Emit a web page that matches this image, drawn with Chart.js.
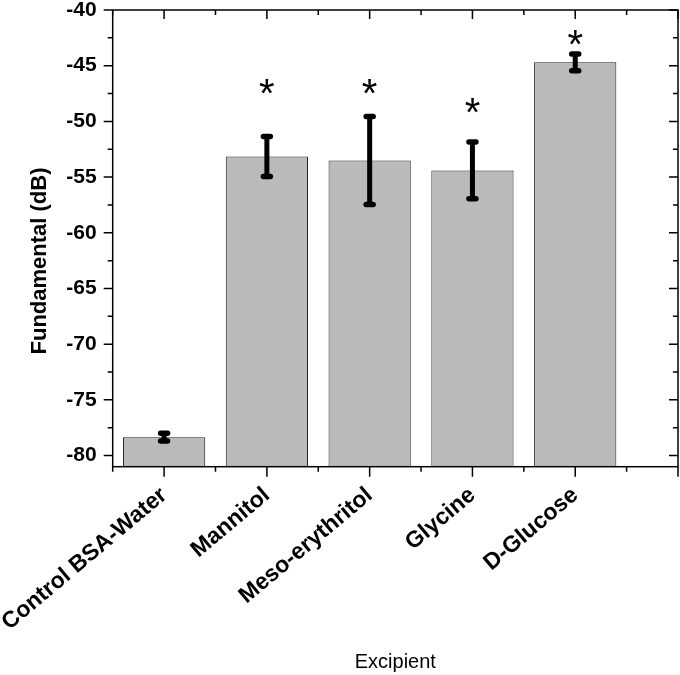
<!DOCTYPE html>
<html>
<head>
<meta charset="utf-8">
<script src="https://cdn.jsdelivr.net/npm/chart.js@4.4.1/dist/chart.umd.min.js"></script>
<style>
  html, body { margin: 0; padding: 0; background: #fff; }
  #wrap { width: 680px; height: 675px; }
</style>
</head>
<body>
<div id="wrap"><canvas id="chart"></canvas></div>
<script>
const excipients = ['Control BSA-Water', 'Mannitol', 'Meso-erythritol', 'Glycine', 'D-Glucose'];
const fundamental = [-78.35, -53.15, -53.5, -54.4, -44.7];
const errors = [0.35, 1.8, 3.95, 2.55, 0.75];
// height of the significance asterisk above each bar (null = none)
const starLevels = [null, -46.7, -46.7, -48.4, -42.3];
const yTicks = [-80, -75, -70, -65, -60, -55, -50, -45, -40];
const yMin = -81;
const yMax = -40;
const xMin = 0.5;
const xMax = 6;

const FONT = "'Liberation Sans', Arial, sans-serif";

const originFrame = {
  id: 'originFrame',
  afterDatasetsDraw (chart) {
    const { ctx, scales: { x, y } } = chart;
    ctx.save();
    ctx.strokeStyle = '#000';
    fundamental.forEach((v, i) => {
      const px = x.getPixelForValue(i + 1);
      const top = y.getPixelForValue(v + errors[i]);
      const bot = y.getPixelForValue(v - errors[i]);
      ctx.lineCap = 'butt';
      ctx.lineWidth = 5;
      ctx.beginPath();
      ctx.moveTo(px, top);
      ctx.lineTo(px, bot);
      ctx.stroke();
      ctx.lineCap = 'round';
      ctx.lineWidth = 5.5;
      ctx.beginPath();
      ctx.moveTo(px - 3.5, top);
      ctx.lineTo(px + 3.5, top);
      ctx.moveTo(px - 3.5, bot);
      ctx.lineTo(px + 3.5, bot);
      ctx.stroke();
    });

    // asterisks
    const starSize = 40;
    ctx.fillStyle = '#000';
    ctx.font = starSize + 'px ' + FONT;
    ctx.textAlign = 'center';
    ctx.textBaseline = 'alphabetic';
    starLevels.forEach((s, i) => {
      if (s === null) return;
      ctx.fillText('*', x.getPixelForValue(i + 1), y.getPixelForValue(s) + 0.57 * starSize);
    });
    ctx.restore();
  },
  afterDraw (chart) {
    const { ctx, chartArea: a, scales: { x, y } } = chart;
    ctx.save();
    ctx.strokeStyle = '#000';
    ctx.lineWidth = 1.5;
    ctx.strokeRect(a.left, a.top, a.right - a.left, a.bottom - a.top);

    ctx.beginPath();
    // y ticks: out on the left, in on the right
    for (let v = yMin; v <= yMax + 0.01; v += 0.5) {
      const r = Math.round(v * 2) / 2;
      const major = r % 5 === 0;
      const minor = !major && r % 2.5 === 0;
      if (!major && !minor) continue;
      const len = major ? 9 : 5;
      const py = y.getPixelForValue(r);
      ctx.moveTo(a.left, py);
      ctx.lineTo(a.left - len, py);
      ctx.moveTo(a.right, py);
      ctx.lineTo(a.right - len, py);
    }
    // x ticks: out at the bottom, in at the top
    for (let v = xMin; v <= xMax + 0.01; v += 0.5) {
      const major = Number.isInteger(v);
      const len = major ? 10 : 5;
      const px = x.getPixelForValue(v);
      ctx.moveTo(px, a.bottom);
      ctx.lineTo(px, a.bottom + len);
      ctx.moveTo(px, a.top);
      ctx.lineTo(px, a.top + (major ? 9 : 5));
    }
    ctx.stroke();

    // y axis title
    ctx.fillStyle = '#000';
    ctx.font = 'bold 22px ' + FONT;
    ctx.textAlign = 'center';
    ctx.textBaseline = 'middle';
    ctx.translate(40, 261);
    ctx.rotate(-Math.PI / 2);
    ctx.fillText('Fundamental (dB)', 0, 0);
    ctx.restore();
  }
};

// eslint-disable-next-line no-undef
const chart = new Chart('chart', {
  type: 'bar',
  data: {
    datasets: [{
      data: excipients.map((name, i) => ({ x: i + 1, y: fundamental[i] })),
      base: yMin,
      backgroundColor: '#bababa',
      borderColor: '#222222',
      borderWidth: 1,
      barPercentage: 0.8,
      categoryPercentage: 1
    }]
  },
  options: {
    responsive: true,
    maintainAspectRatio: false,
    animation: false,
    layout: { padding: { top: 10, right: 2, left: 0, bottom: 0 } },
    plugins: {
      legend: { display: false },
      tooltip: { enabled: false }
    },
    scales: {
      x: {
        type: 'linear',
        min: xMin,
        max: xMax,
        offset: false,
        afterBuildTicks: scale => { scale.ticks = excipients.map((name, i) => ({ value: i + 1 })); },
        afterFit: scale => {
          scale.height = 208.3;
          scale.paddingLeft = 0;
          scale.paddingRight = 0;
          scale.paddingTop = 0;
          scale.paddingBottom = 0;
        },
        grid: { display: false, drawTicks: false },
        border: { display: false },
        ticks: {
          autoSkip: false,
          minRotation: 40,
          maxRotation: 40,
          padding: 15,
          color: '#000',
          font: { family: FONT, size: 23, weight: 'bold' },
          callback: v => excipients[v - 1]
        },
        title: {
          display: true,
          text: 'Excipient',
          color: '#000',
          font: { family: FONT, size: 20 },
          padding: { top: 0, bottom: 1 }
        }
      },
      y: {
        min: yMin,
        max: yMax,
        afterBuildTicks: scale => { scale.ticks = yTicks.map(v => ({ value: v })); },
        afterFit: scale => {
          scale.width = 112.7;
          scale.paddingTop = 0;
          scale.paddingBottom = 0;
        },
        grid: { display: false, drawTicks: false },
        border: { display: false },
        ticks: {
          padding: 16,
          color: '#000',
          font: { family: FONT, size: 21, weight: 'bold', lineHeight: 1 }
        }
      }
    }
  },
  plugins: [originFrame]
});
</script>
</body>
</html>
